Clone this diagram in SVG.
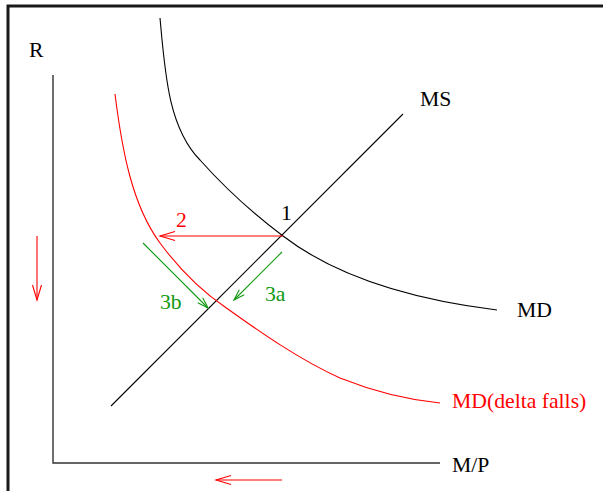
<svg xmlns="http://www.w3.org/2000/svg" width="603" height="491" viewBox="0 0 603 491">
<style>
text{font-family:"Liberation Serif","Times New Roman",serif;font-size:21.7px}
.blk{fill:none;stroke:#000;stroke-width:1.1}
.ax{fill:none;stroke:#333;stroke-width:1.4}
.red{fill:none;stroke:#ff0000;stroke-width:1.1}
.grn{fill:none;stroke:#119911;stroke-width:1.1}
.tr{fill:#ff0000}
.tg{fill:#119911}
</style>
<defs>
<marker id="ar" markerUnits="userSpaceOnUse" orient="auto" refX="0" refY="0" markerWidth="20" markerHeight="12" overflow="visible">
<path d="M-15,-4.5 L0,0 L-15,4.5" fill="none" stroke="#ff0000" stroke-width="1.1"/>
</marker>
<marker id="ag" markerUnits="userSpaceOnUse" orient="auto" refX="0" refY="0" markerWidth="14" markerHeight="10" overflow="visible">
<path d="M-11,-3.5 L0,0 L-11,3.5" fill="none" stroke="#119911" stroke-width="1.1"/>
</marker>
</defs>
<rect width="603" height="491" fill="#fff"/>
<path d="M8,491 L8,6 L603,6" fill="none" stroke="#1a1a1a" stroke-width="3"/>
<g id="axes">
<path class="ax" d="M53,75 L53,463 L440,463"/>
<text x="29" y="57">R</text>
<text x="452" y="472">M/P</text>
</g>
<g id="MS">
<path class="blk" d="M111,406 L403,114"/>
<text x="420" y="106">MS</text>
</g>
<g id="MD">
<path class="blk" d="M160,18 C165,72 168,127 200,160 C225,188 255,215 283,236 C330,272 400,298 497,310"/>
<text x="517" y="317">MD</text>
</g>
<g id="MD2">
<path class="red" d="M115,94 C122,150 132,205 160,243 C180,270 200,290 225,307 C260,332 300,360 340,378 C380,394 410,400 440,403"/>
<text class="tr" x="452" y="408">MD(delta falls)</text>
</g>
<g id="point1">
<text x="281" y="220">1</text>
</g>
<g id="connectors">
<path class="red" d="M283,236 L160,236" marker-end="url(#ar)"/>
<path class="red" d="M37,236 L37,300" marker-end="url(#ar)"/>
<path class="red" d="M282,480 L216,480" marker-end="url(#ar)"/>
<path class="grn" d="M282,252 L234,300" marker-end="url(#ag)"/>
<path class="grn" d="M143,243 L208,308" marker-end="url(#ag)"/>
</g>
<g id="labels">
<text class="tr" x="176" y="227">2</text>
<text class="tg" x="265" y="301">3a</text>
<text class="tg" x="160" y="309">3b</text>
</g>
</svg>
